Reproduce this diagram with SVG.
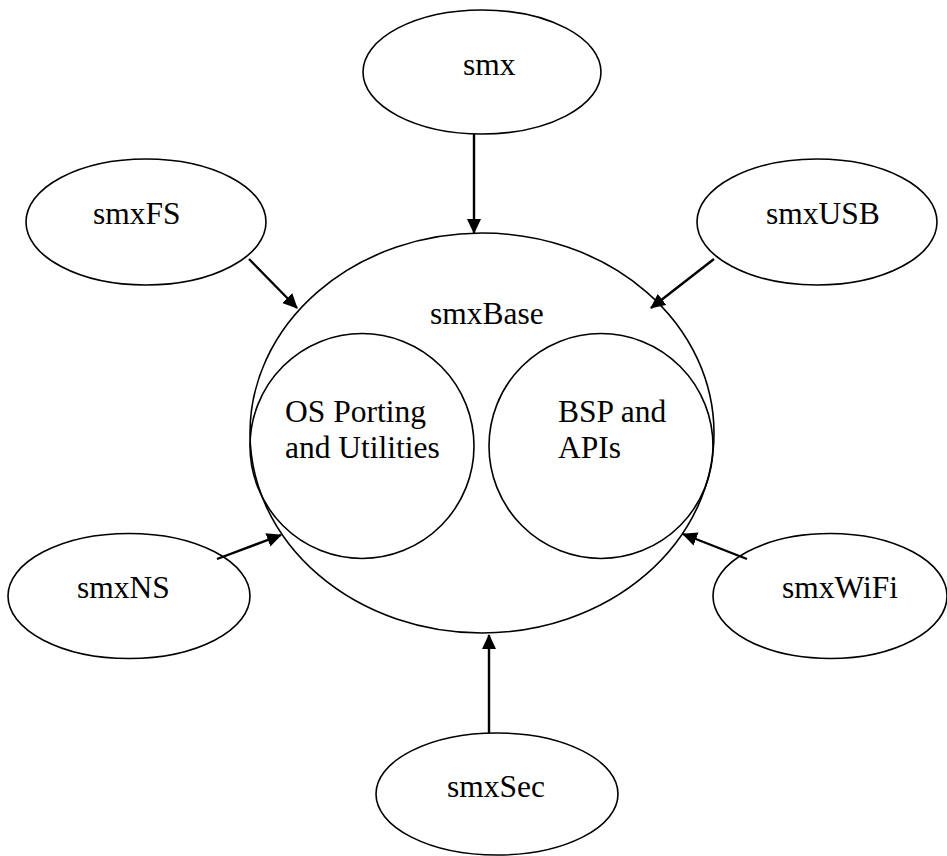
<svg xmlns="http://www.w3.org/2000/svg" width="947" height="856" viewBox="0 0 947 856">
<style>
.shape{fill:#fff;stroke:#000;stroke-width:1.6}
.inner{fill:none;stroke:#000;stroke-width:1.6}
.lbl{font-family:"Liberation Serif","Times New Roman",serif;font-size:31.5px;fill:#000}
.conn{stroke:#000;stroke-width:2.4;fill:none;marker-end:url(#arrow)}
</style>
<defs>
<marker id="arrow" markerUnits="userSpaceOnUse" markerWidth="16" markerHeight="15" refX="14" refY="7" orient="auto">
<path d="M0,0 L15,7 L0,14 z" fill="#000"/>
</marker>
</defs>
<rect width="947" height="856" fill="#fff"/>
<g id="smxBase">
<ellipse class="shape" cx="482" cy="433" rx="232" ry="200"/>
<text class="lbl" x="430" y="324">smxBase</text>
</g>
<g id="osPorting">
<ellipse class="inner" cx="362" cy="446" rx="112" ry="112.5"/>
<text class="lbl" x="285" y="422">OS Porting</text>
<text class="lbl" x="285" y="458">and Utilities</text>
</g>
<g id="bsp">
<ellipse class="inner" cx="601" cy="446" rx="112" ry="112.5"/>
<text class="lbl" x="558" y="422">BSP and</text>
<text class="lbl" x="558" y="458">APIs</text>
</g>
<g id="smx">
<ellipse class="shape" cx="482" cy="72" rx="119" ry="62"/>
<text class="lbl" x="463" y="75">smx</text>
</g>
<g id="smxFS">
<ellipse class="shape" cx="146" cy="222" rx="120" ry="63"/>
<text class="lbl" x="93" y="224">smxFS</text>
</g>
<g id="smxUSB">
<ellipse class="shape" cx="817" cy="222" rx="120" ry="63"/>
<text class="lbl" x="766" y="224">smxUSB</text>
</g>
<g id="smxNS">
<ellipse class="shape" cx="129" cy="596" rx="121" ry="62.5"/>
<text class="lbl" x="77" y="598">smxNS</text>
</g>
<g id="smxWiFi">
<ellipse class="shape" cx="830" cy="596" rx="117" ry="62.5"/>
<text class="lbl" x="782" y="598">smxWiFi</text>
</g>
<g id="smxSec">
<ellipse class="shape" cx="497" cy="794" rx="121" ry="61"/>
<text class="lbl" x="447" y="797">smxSec</text>
</g>
<g id="connectors">
<line class="conn" x1="474" y1="134" x2="474" y2="233"/>
<line class="conn" x1="249" y1="259" x2="297" y2="308"/>
<line class="conn" x1="714" y1="259" x2="651" y2="308"/>
<line class="conn" x1="217" y1="559" x2="281" y2="535"/>
<line class="conn" x1="747" y1="559" x2="683" y2="534"/>
<line class="conn" x1="489" y1="733" x2="489" y2="635"/>
</g>
</svg>
